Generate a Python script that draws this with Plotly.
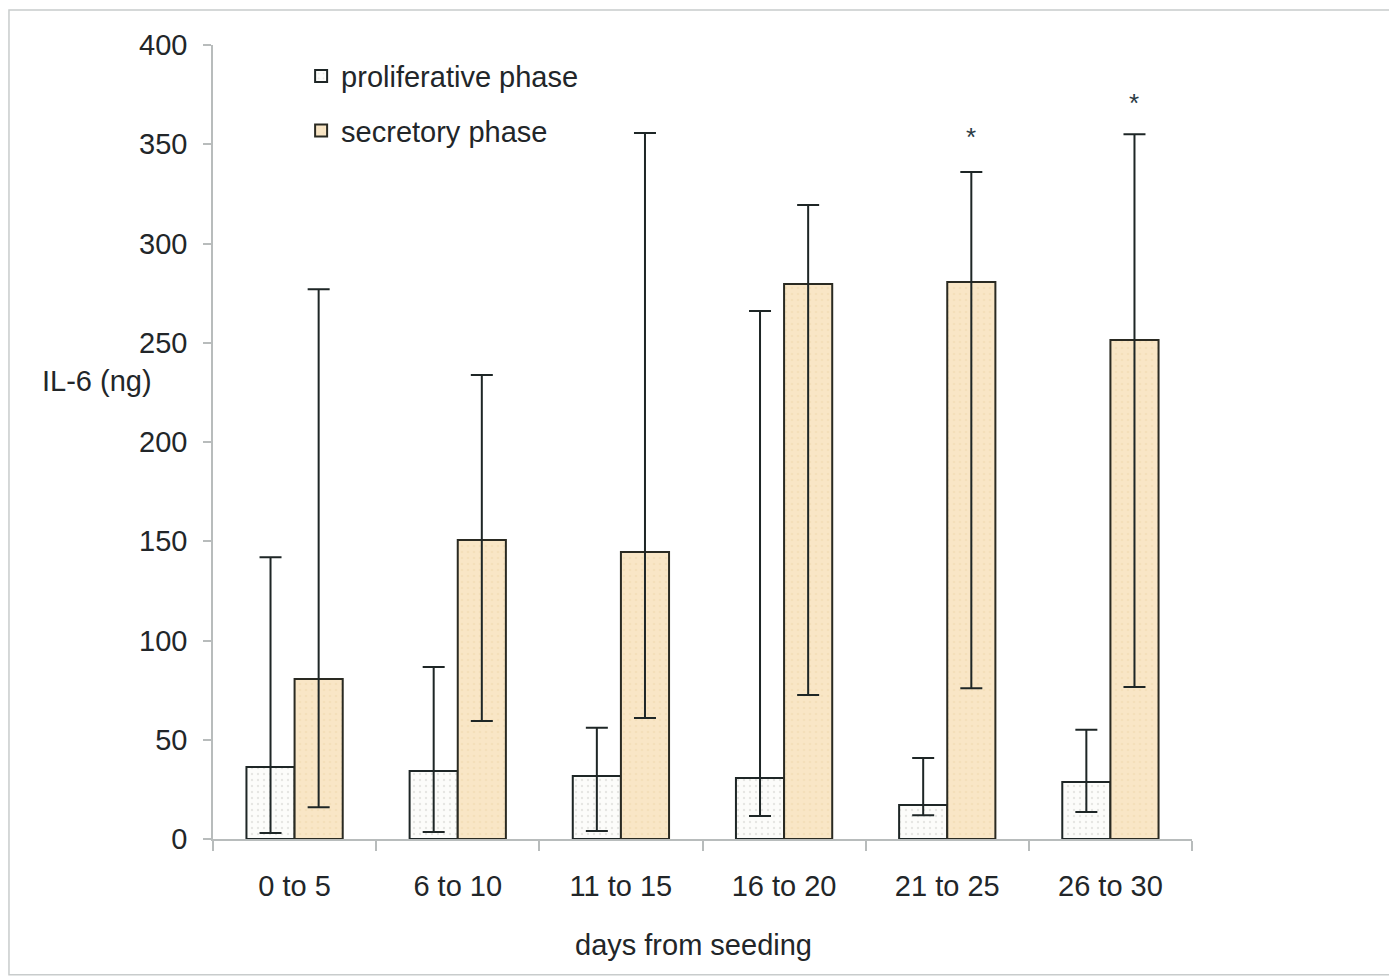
import plotly.graph_objects as go

categories = ["0 to 5", "6 to 10", "11 to 15", "16 to 20", "21 to 25", "26 to 30"]

prolif_mean = [36.3, 34.3, 31.7, 30.7, 17.1, 28.7]
prolif_upper = [142, 86.6, 56, 266, 40.8, 55]
prolif_lower = [3, 3.5, 4, 11.6, 12, 13.6]

secr_mean = [80.6, 150.6, 144.6, 279.6, 280.6, 251.4]
secr_upper = [277, 233.8, 355.7, 319.4, 336, 355]
secr_lower = [16, 59.4, 61, 72.5, 76, 76.6]

star_cats = ["21 to 25", "26 to 30"]
star_y = [353.5, 371]

y_ticks = [0, 50, 100, 150, 200, 250, 300, 350, 400]

FONT = "Liberation Sans, Arial, sans-serif"
TXT = "#222629"
EB = "#1e2626"

def plus(m, u):
    return [a - b for a, b in zip(u, m)]

def minus(m, l):
    return [b - a for a, b in zip(l, m)]

fig = go.Figure()
fig.add_trace(go.Bar(
    x=categories, y=prolif_mean, name="proliferative phase",
    legendgroup="p",
    marker=dict(color="#fbfbf9", line=dict(color="#1e2626", width=2),
                pattern=dict(shape=".", fgcolor="#d0d0cc", bgcolor="#fcfcfa", size=6, solidity=0.12)),
    error_y=dict(type="data", symmetric=False, array=plus(prolif_mean, prolif_upper),
                 arrayminus=minus(prolif_mean, prolif_lower), color=EB, thickness=2, width=11),
))
fig.add_trace(go.Bar(
    x=categories, y=secr_mean, name="secretory phase",
    legendgroup="s",
    marker=dict(color="#f9e5c4", line=dict(color="#2a2a22", width=2),
                pattern=dict(shape=".", fgcolor="#f0d7ad", bgcolor="#f9e6c6", size=6, solidity=0.15)),
    error_y=dict(type="data", symmetric=False, array=plus(secr_mean, secr_upper),
                 arrayminus=minus(secr_mean, secr_lower), color=EB, thickness=2, width=11),
))

annotations = []
for c, yv in zip(star_cats, star_y):
    annotations.append(dict(x=c, y=yv, xref="x", yref="y", text="*", showarrow=False,
                            xshift=24, font=dict(size=26, color="#2a3a44", family=FONT)))
annotations.append(dict(x=-0.177, y=0.577, xref="paper", yref="paper", text="IL-6 (ng)",
                        showarrow=False, xanchor="left", yanchor="middle",
                        font=dict(size=29, color=TXT, family=FONT)))
annotations.append(dict(x=0.5, y=-0.134, xref="paper", yref="paper", text="days from seeding",
                        showarrow=False, xanchor="center", yanchor="middle", xshift=-9,
                        font=dict(size=29, color=TXT, family=FONT)))

fig.update_layout(
    width=1397, height=979,
    margin=dict(l=205, r=213, t=37, b=148),
    paper_bgcolor="white", plot_bgcolor="white",
    barmode="group", bargap=0.41, bargroupgap=0,
    font=dict(family=FONT, size=29, color=TXT),
    showlegend=True,
    legend=dict(x=0.09, y=0.993, xanchor="left", yanchor="top", bgcolor="rgba(0,0,0,0)",
                font=dict(size=29, color=TXT, family=FONT), tracegroupgap=14,
                itemwidth=30),
    annotations=annotations,
    shapes=[dict(type="rect", xref="paper", yref="paper", x0=-0.2084, x1=1.23, y0=-0.171, y1=1.044,
                 line=dict(color="#c8cccc", width=1.5))],
)
fig.update_xaxes(
    type="category", showline=True, linecolor="#b8bcbc", linewidth=1.5,
    ticks="outside", tickson="boundaries", ticklen=10, tickcolor="#b8bcbc", tickwidth=1.5,
    ticklabelstandoff=20,
    tickfont=dict(size=29, color=TXT, family=FONT), showgrid=False, zeroline=False,
)
fig.update_yaxes(
    range=[0, 400], tickvals=y_ticks, showline=True, linecolor="#b8bcbc", linewidth=1.5,
    ticks="outside", ticklen=8, tickcolor="#b8bcbc", tickwidth=1.5,
    ticklabelstandoff=10,
    tickfont=dict(size=29, color=TXT, family=FONT), showgrid=False, zeroline=False,
)

fig.write_html("out.html")
